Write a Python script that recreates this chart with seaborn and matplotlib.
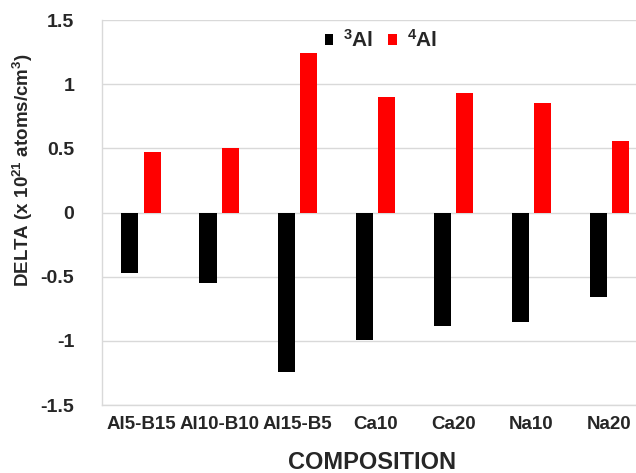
import matplotlib
matplotlib.use("Agg")
import matplotlib.pyplot as plt
import seaborn as sns
import pandas as pd
from matplotlib.patches import Patch

compositions = ["Al5-B15", "Al10-B10", "Al15-B5", "Ca10", "Ca20", "Na10", "Na20"]
al3_values = [-0.47, -0.55, -1.24, -0.99, -0.885, -0.85, -0.66]
al4_values = [0.47, 0.505, 1.24, 0.90, 0.93, 0.85, 0.56]
series_names = ["3Al", "4Al"]
series_labels = [r"$^{3}$Al", r"$^{4}$Al"]
yticks = [-1.5, -1, -0.5, 0, 0.5, 1, 1.5]
ytick_labels = ["-1.5", "-1", "-0.5", "0", "0.5", "1", "1.5"]

df = pd.DataFrame({
    "composition": compositions * 2,
    "series": [series_names[0]] * len(compositions) + [series_names[1]] * len(compositions),
    "delta": al3_values + al4_values,
})

sns.set_style("white")
plt.rcParams["font.family"] = ["Liberation Sans", "DejaVu Sans"]
plt.rcParams["font.weight"] = "bold"
plt.rcParams["mathtext.fontset"] = "custom"
plt.rcParams["mathtext.rm"] = "Liberation Sans:bold"
plt.rcParams["mathtext.bf"] = "Liberation Sans:bold"
plt.rcParams["mathtext.it"] = "Liberation Sans:bold"

fig = plt.figure(figsize=(6.36, 4.73), dpi=100)
W, H = 636, 473
left, right, top, bottom = 102, 648.6, 20, 405
ax = fig.add_axes([left / W, 1 - bottom / H, (right - left) / W, (bottom - top) / H])

palette = {series_names[0]: "#000000", series_names[1]: "#ff0000"}
sns.barplot(data=df, x="composition", y="delta", hue="series", order=compositions,
            hue_order=series_names, palette=palette, width=0.57, gap=0.23,
            saturation=1, legend=False, ax=ax, zorder=3, linewidth=0)

ax.set_ylim(-1.5, 1.5)
ax.set_xlim(-0.5, len(compositions) - 0.5)
ax.set_yticks(yticks)
ax.set_yticklabels(ytick_labels, fontsize=14, fontweight="bold")
ax.set_xticks(range(len(compositions)))
ax.set_xticklabels(compositions, fontsize=13.5, fontweight="bold")
ax.tick_params(axis="y", length=0, pad=20)
ax.tick_params(axis="x", length=0, pad=8)

ax.grid(axis="y", color="#d9d9d9", linewidth=1.0, zorder=0)
ax.set_axisbelow(True)
for s in ["top", "right"]:
    ax.spines[s].set_visible(False)
for s in ["left", "bottom"]:
    ax.spines[s].set_color("#d9d9d9")
    ax.spines[s].set_linewidth(1.0)

ax.set_ylabel(r"DELTA (x 10$^{21}$ atoms/cm$^{3}$)", fontsize=13.5, fontweight="bold")
ax.yaxis.label.set_va("center")
ax.yaxis.set_label_coords((23 - left) / (right - left), (bottom - 170) / (bottom - top))
ax.set_xlabel("COMPOSITION", fontsize=17, fontweight="bold")
ax.xaxis.label.set_va("center")
ax.xaxis.set_label_coords((372 - left) / (right - left), (bottom - 462) / (bottom - top))

handles = [Patch(facecolor=palette[n], edgecolor="none") for n in series_names]
ax.legend(handles, series_labels, loc="center",
          bbox_to_anchor=((381 - left) / (right - left), (bottom - 40) / (bottom - top)),
          ncol=2, frameon=False, fontsize=15, handlelength=0.4, handleheight=0.4,
          handletextpad=0.5, columnspacing=0.7, borderpad=0)

fig.savefig("out.png", dpi=100)
